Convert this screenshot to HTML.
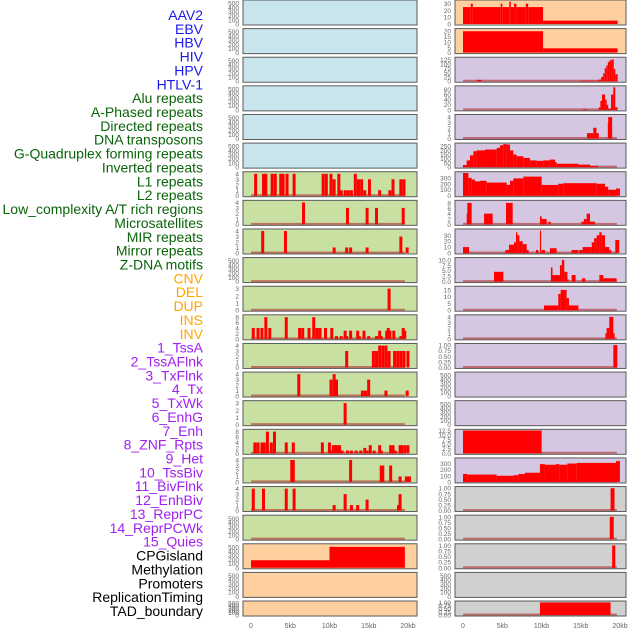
<!DOCTYPE html>
<html><head><meta charset="utf-8"><style>
body{margin:0;background:#fff;width:630px;height:630px;overflow:hidden}
svg{display:block;font-family:"Liberation Sans",sans-serif}
</style></head><body>
<svg id="c" width="630" height="630"></svg>
<script>
const labels=["AAV2","EBV","HBV","HIV","HPV","HTLV-1","Alu repeats","A-Phased repeats","Directed repeats","DNA transposons","G-Quadruplex forming repeats","Inverted repeats","L1 repeats","L2 repeats","Low_complexity A/T rich regions","Microsatellites","MIR repeats","Mirror repeats","Z-DNA motifs","CNV","DEL","DUP","INS","INV","1_TssA","2_TssAFlnk","3_TxFlnk","4_Tx","5_TxWk","6_EnhG","7_Enh","8_ZNF_Rpts","9_Het","10_TssBiv","11_BivFlnk","12_EnhBiv","13_ReprPC","14_ReprPCWk","15_Quies","CPGisland","Methylation","Promoters","ReplicationTiming","TAD_boundary"];
const labelColors=[[6,"#1a1ae6"],[19,"#0a640a"],[24,"#ffa500"],[39,"#a020f0"],[44,"#000"]];
const xTicks=[0,5,10,15,20];
const xTickLabels=["0","5kb","10kb","15kb","20kb"];
const leftBg=["b","b","b","b","b","b","g","g","g","g","g","g","g","g","g","g","g","g","g","o","o","o"];
const rightBg=["o","o","l","l","l","l","l","l","l","l","l","l","l","l","l","l","l","y","y","y","y","y"];
const leftTicks=[[0,100,200,300,400,500],[0,100,200,300,400,500],[0,100,200,300,400,500],[0,100,200,300,400,500],[0,100,200,300,400,500],[0,100,200,300,400,500],[0,1,2,3,4],[0,1,2,3,4],[0,1,2,3,4],[0,100,200,300,400,500],[0,1,2,3],[0,2,4,6,8],[0,1,2,3,4],[0,1,2,3,4],[0,1,2,3],[0,2,4,6,8],[0,1,2,3,4],[0,1,2,3,4],[0,100,200,300,400,500],[0,100,200,300,400,500],[0,100,200,300,400,500],[0,100,200,300,400,500]];
const leftMax=[550,550,550,550,550,550,4.2,4.2,4.2,550,3.2,8.5,4.2,4.2,3.2,8.5,4.2,4.2,550,550,550,550];
const leftSpikes=[[],[],[],[],[],[],
[[0.4,4],[1.4,4],[1.7,4],[2.5,4],[2.9,4],[3.6,4],[3.9,4],[4.4,4],[5.3,4],[9.0,4],[9.4,4],[10.0,4],[10.4,3],[11.0,4],[11.3,1],[11.8,1],[12.2,1],[12.6,1],[13.1,4],[13.5,3],[13.9,3],[14.3,1],[14.9,3],[16.2,1],[17.5,1],[17.9,3],[18.9,3],[19.3,3]],
[[6.5,4],[12.1,3],[14.6,3],[15.8,3],[19.2,3]],
[[1.3,4],[4.2,4],[10.4,1],[12.0,1],[12.5,1],[14.6,1],[18.9,3],[19.7,1]],
[],
[[17.4,3]],
[[0.1,4],[0.7,4],[1.2,4],[1.7,8],[2.2,4],[4.3,8],[6.0,4],[6.4,4],[7.2,4],[7.8,8],[8.2,4],[8.6,4],[9.3,4],[10.1,4],[10.7,1],[11.3,1],[11.8,3],[12.0,1],[12.5,3],[13.4,3],[13.6,1],[14.2,3],[14.8,1],[15.8,1],[16.2,3],[16.4,1],[17.1,3],[17.3,4],[17.5,3],[18.0,3],[18.9,1],[19.2,4],[19.4,3]],
[[12.0,3],[15.4,3],[15.8,3],[16.2,4],[16.6,4],[17.0,4],[17.4,3],[18.1,3],[18.5,3],[18.9,3],[19.3,3],[19.8,3]],
[[5.9,4],[10.0,3],[10.4,4],[10.7,3],[14.0,1],[14.4,1],[14.8,3],[17.0,1],[19.7,1]],
[[11.8,3]],
[[0.3,4],[0.7,4],[1.2,4],[1.5,4],[1.9,8],[2.4,4],[2.8,8],[4.3,4],[5.2,4],[8.9,4],[9.8,4],[10.1,1],[10.3,3],[10.5,3],[10.8,3],[11.1,3],[11.4,1],[12.1,1],[12.6,1],[13.2,1],[13.8,1],[14.3,2],[14.6,1],[15.0,3],[15.5,1],[16.2,3],[16.4,1],[17.6,3],[17.9,3],[18.2,1],[18.8,3],[19.0,3],[19.4,3],[19.8,3]],
[[5.0,4],[5.2,4],[12.5,4],[16.4,3],[16.6,3],[17.6,3],[19.6,1],[20.0,1],[18.8,1],[19.8,1]],
[[0.1,4],[1.4,4],[4.3,4],[5.3,4],[10.4,1],[11.8,3],[12.6,1],[13.4,1],[14.6,2],[18.6,1],[18.8,3]],
[],[],[],[]];
const rightSteps=[
[[0,25],[1.0,30],[1.25,25],[4.8,30],[5.0,25],[5.9,33],[6.1,25],[6.5,30],[6.8,25],[8.0,30],[8.3,25],[10.2,5],[19.7,0]],
[[0,20],[10.2,4],[19.7,0]],
[[1.74,8],[2.38,0],[14.9,3],[17.3,10],[17.6,25],[17.85,45],[18.05,75],[18.25,90],[18.45,110],[18.65,120],[18.9,125],[19.2,70],[19.4,40],[19.7,0]],
[[15.3,3],[15.8,0],[17.3,10],[17.5,35],[17.7,60],[18.1,40],[18.3,20],[18.5,5],[18.86,60],[19.15,88],[19.4,10],[19.7,0]],
[[15.8,1],[16.6,2],[17.0,1],[17.3,0],[18.45,3],[18.5,4],[19.0,0]],
[[0,25],[0.47,80],[0.89,140],[1.32,190],[1.74,200],[2.8,210],[4.29,230],[4.71,260],[5.14,280],[5.56,270],[5.99,200],[6.41,150],[6.84,130],[7.68,110],[8.54,80],[9.39,75],[10.23,80],[11.08,90],[11.72,60],[11.93,40],[14.7,30],[16.18,15],[17.24,0]],
[[0,380],[0.68,300],[1.1,270],[1.53,240],[2.17,250],[3.02,220],[5.56,180],[5.99,250],[6.41,290],[7.68,320],[10.02,180],[12.14,200],[12.78,210],[17.03,200],[18.09,150],[18.5,100],[19.49,120],[19.99,0]],
[[0.47,4],[0.55,8],[1.1,0],[2.68,4],[3.78,0],[5.48,8],[6.33,0],[9.8,3],[10.02,2],[10.66,0],[10.87,1],[11.17,0],[15.1,1],[15.4,2],[15.75,4],[16.18,1],[16.8,0]],
[[0,10],[0.77,0],[5.39,5],[5.86,14],[6.5,18],[6.75,35],[6.92,30],[7.18,20],[7.6,15],[8.11,5],[8.36,0],[9.3,5],[9.6,0],[9.8,38],[9.95,0],[10.02,5],[10.44,0],[11.08,8],[11.93,0],[13.84,5],[14.7,0],[14.8,5],[15.24,10],[16.1,10],[16.4,18],[16.7,25],[17.03,30],[17.37,35],[17.66,30],[18.09,10],[18.64,5],[18.9,0],[19.4,22],[19.9,0]],
[[3.95,4.5],[5.14,0],[11.2,6.5],[11.4,3],[12.35,7.5],[12.6,10],[12.9,4.5],[13.3,1],[13.46,0],[13.84,3],[14.35,0],[15.15,1.5],[15.58,0],[17.37,3],[17.88,1.5],[19.57,0]],
[[10.32,3.5],[12.14,12],[12.44,15],[13.2,9],[13.5,3.5],[14.7,0]],
[[18.13,1],[18.3,2],[18.64,4],[19.15,1],[19.32,0]],
[[19.15,1],[19.66,0]],
[],[],
[[0,12.5],[10.02,0]],
[[0,130],[0.55,120],[4.29,100],[6.41,110],[7.05,130],[7.9,150],[9.8,290],[10.44,280],[11.85,290],[12.27,280],[13.29,300],[14.48,310],[19.49,340],[19.99,0]],
[[18.8,1],[19.3,0]],
[[18.7,1],[19.2,0]],
[[19.0,1],[19.4,0]],
[],
[[9.8,1],[18.8,0]]];
const rightTicks=[[0,10,20,30],[0,5,10,15,20],[0,25,50,75,100,125],[0,20,40,60,80],[0,1,2,3,4],[0,50,100,150,200,250],[0,100,200,300],[0,2,4,6,8],[0,10,20,30],[0,2.5,5.0,7.5,10.0],[0,5,10,15],[0,1,2,3,4],[0.00,0.25,0.50,0.75,1.00],[0,100,200,300,400,500],[0,100,200,300,400,500],[0,2.5,5.0,7.5,10.0,12.5],[0,100,200,300],[0.00,0.25,0.50,0.75,1.00],[0.00,0.25,0.50,0.75,1.00],[0.00,0.25,0.50,0.75,1.00],[0,100,200,300,400,500],[0.00,0.25,0.50,0.75,1.00]];
const rightMax=[34,21.5,132,90,4.3,275,385,8.6,39,10.6,17,4.2,1.03,550,550,12.6,375,1.03,1.03,1.03,550,1.03];
const rightFmt=[0,0,0,0,0,0,0,0,0,1,0,0,2,0,0,1,0,2,2,2,0,2];
const cpgSteps=[[0,180],[10,500],[19.6,0]];

const NS="http://www.w3.org/2000/svg";
const svg=document.getElementById('c');
function el(t,a,p){const e=document.createElementNS(NS,t);for(const k in a)e.setAttribute(k,a[k]);(p||svg).appendChild(e);return e;}
const bgc={b:"#c8e4ec",g:"#c8e0a2",o:"#fed09f",l:"#d5c6e2",y:"#d0d0d0"};
const L={x0:243,x1:417,z:251},R={x0:455,x1:626,z:463};
const kpx=7.85;
function rowTop(i){return i*28.62;}
function rowH(i){return i==21?15:25;}
function xs(col,kb){return col.z+kb*kpx;}
function ys(i,v,max){const t=rowTop(i),h=rowH(i);return t+h-1-(v/max)*(h-2);}

labels.forEach((s,i)=>{let c="#000";for(const [n,col] of labelColors){if(i<n){c=col;break;}}
const t=el('text',{x:203,y:15+i*13.86+5,'text-anchor':'end','font-size':14,fill:c});t.textContent=s;

});

function panel(col,i,bg,ticks,max,fmt,name){
 const t=rowTop(i),h=rowH(i);
 const g=el('g',{});
 
 
 el('rect',{x:col.x0,y:t,width:col.x1-col.x0,height:h,fill:bgc[bg],stroke:"#5a5a5a","stroke-width":1},g);
 ticks.forEach(v=>{const y=ys(i,v,max);const tx=el('text',{x:col.x0-4,y:y+2.5,'text-anchor':'end','font-size':6.5,fill:"#666"},g);tx.textContent=fmt?v.toFixed(fmt):String(v);});
 return g;
}
function baseline(g,col,i){const y=rowTop(i)+rowH(i)-1.5;el('line',{x1:xs(col,0),x2:xs(col,19.6),y1:y,y2:y,stroke:"#b03030","stroke-width":2,opacity:0.6},g);}
function steps(g,col,i,arr,max){for(let k=0;k<arr.length-1;k++){const [s,v]=arr[k];if(v<=0)continue;const e=arr[k+1][0];const y=ys(i,Math.min(v,max),max);
 const r=el('rect',{x:xs(col,s),y:y,width:Math.max(0.8,(e-s)*kpx),height:rowTop(i)+rowH(i)-1-y,fill:"#ff0000"},g);
 
 }}

for(let i=0;i<22;i++){
 const g=panel(L,i,leftBg[i],leftTicks[i],leftMax[i],0,'left-panel-'+(i+1));
 if(leftBg[i]!=="b"&&leftBg[i]!=="o")baseline(g,L,i);
 leftSpikes[i].forEach(([kb,v])=>{const y=ys(i,v,leftMax[i]);
  const r=el('rect',{x:xs(L,kb),y:y,width:3,height:rowTop(i)+rowH(i)-1-y,fill:"#ff0000"},g);
  
  });
 if(i===19)steps(g,L,i,cpgSteps,leftMax[i]);
 const g2=panel(R,i,rightBg[i],rightTicks[i],rightMax[i],rightFmt[i],'right-panel-'+(i+1));
 if(rightBg[i]!=="o"&&i!==20&&i!==13&&i!==14)baseline(g2,R,i);
 steps(g2,R,i,rightSteps[i],rightMax[i]);
}
[L,R].forEach((col,ci)=>{xTicks.forEach((k,j)=>{const t=el('text',{x:xs(col,k),y:628,'text-anchor':'middle','font-size':7,fill:"#666"});t.textContent=xTickLabels[j];
 
 });});
</script>
</body></html>
